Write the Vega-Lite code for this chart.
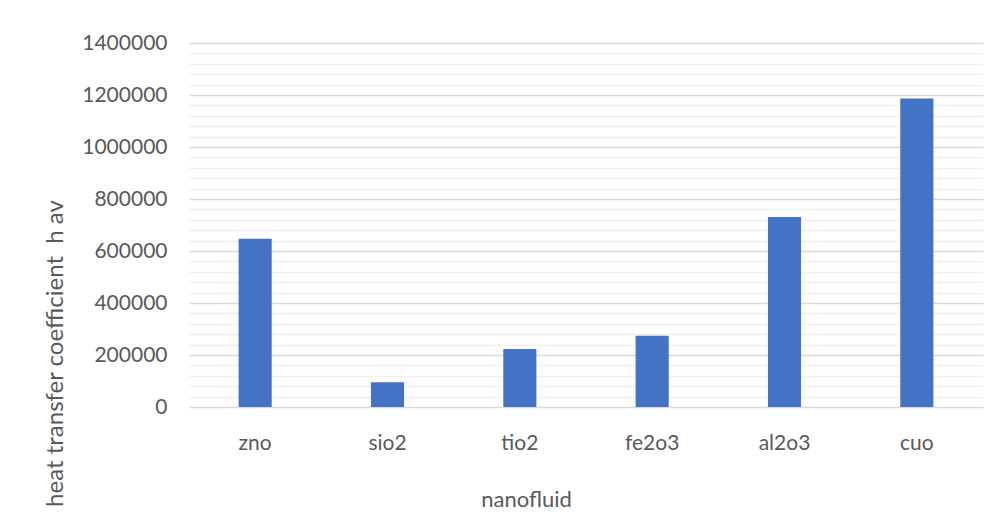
{
  "$schema": "https://vega.github.io/schema/vega-lite/v6.json",
  "width": 794,
  "height": 364,
  "autosize": {"type": "none"},
  "padding": {"left": 189, "top": 43, "right": 15, "bottom": 110},
  "background": "white",
  "config": {
    "view": {"stroke": null},
    "font": "Lato",
    "axis": {"labelFont": "Lato", "titleFont": "Lato", "labelColor": "#595959", "titleColor": "#595959", "titleFontWeight": "normal"}
  },
  "data": {
    "values": [
      {"nanofluid": "zno", "h_av": 647000},
      {"nanofluid": "sio2", "h_av": 95000},
      {"nanofluid": "tio2", "h_av": 223000},
      {"nanofluid": "fe2o3", "h_av": 274000},
      {"nanofluid": "al2o3", "h_av": 731000},
      {"nanofluid": "cuo", "h_av": 1187000}
    ]
  },
  "layer": [
    {
      "mark": {"type": "bar", "opacity": 0},
      "encoding": {
        "x": {"field": "nanofluid", "type": "nominal", "sort": null},
        "y": {
          "field": "h_av",
          "type": "quantitative",
          "scale": {"domain": [0, 1400000], "nice": false},
          "axis": {
            "orient": "right",
            "title": null,
            "labels": false,
            "ticks": false,
            "domain": false,
            "grid": true,
            "gridColor": "#f0f0f0",
            "gridWidth": 1.5,
            "values": [40000, 80000, 120000, 160000, 240000, 280000, 320000, 360000, 440000, 480000, 520000, 560000, 640000, 680000, 720000, 760000, 840000, 880000, 920000, 960000, 1040000, 1080000, 1120000, 1160000, 1240000, 1280000, 1320000, 1360000]
          }
        }
      }
    },
    {
      "mark": {"type": "bar", "color": "#4472C4"},
      "encoding": {
        "x": {
          "field": "nanofluid",
          "type": "nominal",
          "sort": null,
          "scale": {"paddingInner": 0.75, "paddingOuter": 0.375},
          "axis": {
            "title": "nanofluid",
            "bandPosition": 0.5,
            "labelAngle": 0,
            "labelAlign": "center",
            "labelFontSize": 21,
            "labelBaseline": "alphabetic",
            "labelPadding": 42,
            "ticks": false,
            "tickSize": 0,
            "domain": false,
            "grid": false,
            "titleFontSize": 22,
            "titleX": 337,
            "titleY": 99,
            "titleAlign": "center",
            "titleBaseline": "alphabetic"
          }
        },
        "y": {
          "field": "h_av",
          "type": "quantitative",
          "axis": {
            "title": "heat transfer coefficient \u00a0h av",
            "values": [0, 200000, 400000, 600000, 800000, 1000000, 1200000, 1400000],
            "format": "d",
            "labelFontSize": 21,
            "labelPadding": 22,
            "ticks": false,
            "tickSize": 0,
            "domain": false,
            "grid": true,
            "gridColor": "#d9d9d9",
            "gridWidth": 1.5,
            "titleFontSize": 24,
            "titleAngle": -90,
            "titleX": -127,
            "titleY": 310,
            "titleAlign": "center",
            "titleBaseline": "alphabetic"
          }
        }
      }
    }
  ],
  "resolve": {"axis": {"y": "independent"}}
}
